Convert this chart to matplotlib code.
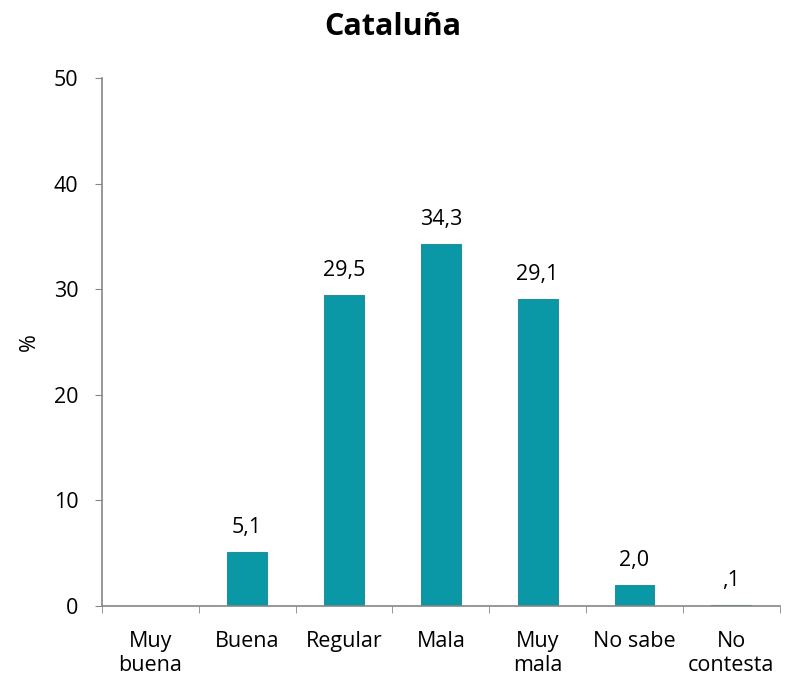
import matplotlib.pyplot as plt
import numpy as np

plt.rcParams['font.family'] = ['Open Sans', 'DejaVu Sans']

# Datos
categorias = ['Muy\nbuena', 'Buena', 'Regular', 'Mala', 'Muy\nmala', 'No sabe', 'No\ncontesta']
valores = [0.0, 5.1, 29.5, 34.3, 29.1, 2.0, 0.1]
etiquetas = ['', '5,1', '29,5', '34,3', '29,1', '2,0', ',1']
yticks = [0, 10, 20, 30, 40, 50]

fig = plt.figure(figsize=(7.9, 6.87), dpi=100)
ax = fig.add_axes([0.129, 0.118, 0.858, 0.768])

x = np.arange(len(categorias))
barras = ax.bar(x, valores, width=0.41, color='#0A97A6', edgecolor='#2C8C9B', linewidth=0.8, zorder=2)

for b, t in zip(barras, etiquetas):
    if t:
        ax.text(b.get_x() + b.get_width() / 2, b.get_height() + 1.3, t,
                ha='center', va='bottom', fontsize=15.5)

ax.set_xlim(-0.5, len(categorias) - 0.5)
ax.set_ylim(0, 50)
ax.set_yticks(yticks)
ax.set_yticklabels([str(v) for v in yticks], fontsize=15.5)

# etiquetas en el centro, marcas en los limites de categoria
ax.set_xticks(x)
ax.set_xticklabels(categorias, fontsize=15.5)
ax.tick_params(axis='x', length=0, pad=18)
ax.set_xticks(np.arange(len(categorias) + 1) - 0.5, minor=True)
ax.tick_params(axis='x', which='minor', length=5, color='#868686', direction='out')
ax.tick_params(axis='y', length=5, color='#868686', direction='out', pad=12)

for s in ['top', 'right']:
    ax.spines[s].set_visible(False)
for s in ['left', 'bottom']:
    ax.spines[s].set_color('#868686')
    ax.spines[s].set_linewidth(1.2)

ax.set_ylabel('%', fontsize=15.5, labelpad=10)
fig.suptitle('Cataluña', x=0.497, y=0.983, fontsize=22, fontweight='bold', va='top')

fig.savefig('out.png', dpi=100)
